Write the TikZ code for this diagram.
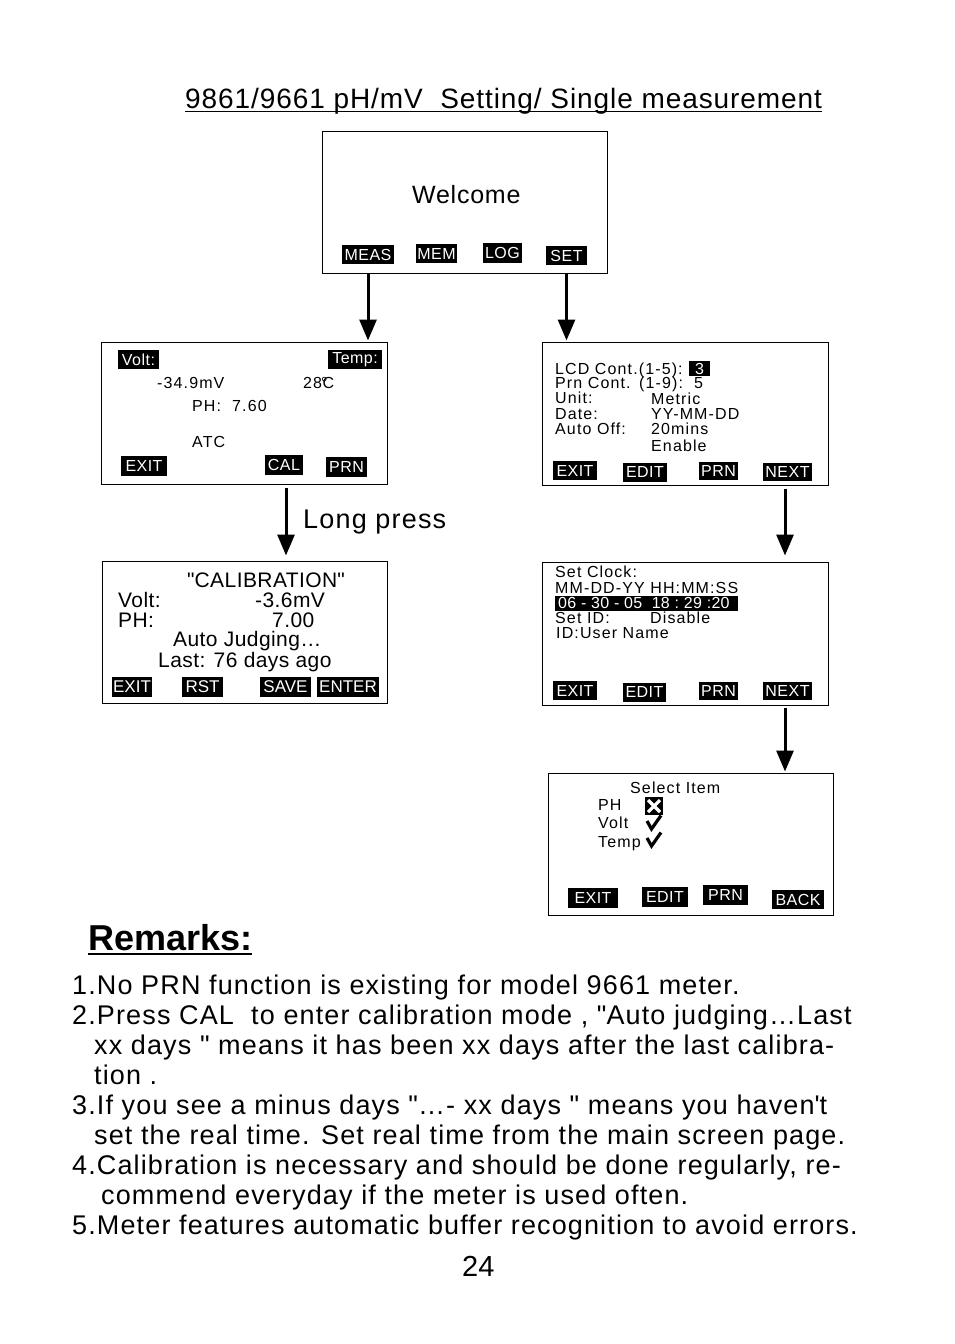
\documentclass[tikz,border=0pt]{standalone}
\usepackage{fontspec}
\setmainfont{Liberation Sans}
\usetikzlibrary{arrows.meta}
\newcommand\myfs[1]{\fontsize{#1}{#1}\selectfont}
\newcommand\lsp[1]{\addfontfeatures{LetterSpace=#1}}
\newcommand\dq{\textquotedbl}
\begin{document}
\begin{tikzpicture}[x=1pt,y=-1pt,
  screen/.style={draw=black,line width=1pt,inner sep=0pt,minimum width=285pt,minimum height=142pt},
  btn/.style={fill=black,text=white,inner sep=0pt,font=\myfs{16}\lsp{3}},
  lcd/.style={inner sep=0pt,anchor=base west,font=\myfs{16}\lsp{7}},
  big/.style={inner sep=0pt,anchor=base west,font=\myfs{21}\lsp{2}},
  rem/.style={inner sep=0pt,anchor=base west,font=\myfs{27}\lsp{4.2}},
  chk/.style={line width=3.2pt,line cap=butt,line join=miter},
  arr/.style={line width=3pt,-{Triangle[length=21pt,width=17pt]}}]
\useasboundingbox (0,0) rectangle (954,1344);
% title
\node[inner sep=0pt,anchor=base west,font=\myfs{28}\lsp{3.3}] (title) at (185,108) {9861/9661 pH/mV\ \ Setting/ Single measurement};
\draw[line width=1pt] ([yshift=-3pt]title.base west) -- ([yshift=-3pt]title.base east);
% welcome screen
\node[screen] (welcome) at (464.5,202) {};
\node[inner sep=0pt,anchor=base west,font=\myfs{25}\lsp{3}] (wtxt) at (412,203) {Welcome};
\node[btn,minimum width=52pt,minimum height=19pt] (meas) at (368,254.5) {MEAS};
\node[btn,minimum width=41pt,minimum height=19pt] (mem) at (436.5,253.5) {MEM};
\node[btn,minimum width=39pt,minimum height=20pt] (log) at (502.5,253) {LOG};
\node[btn,minimum width=41pt,minimum height=19pt] (set) at (566.5,255.5) {SET};
% measure screen
\node[screen,minimum width=286pt] (measure) at (244,413) {};
\node[btn,minimum width=41pt,minimum height=19pt] (volt) at (138.5,359.5) {Volt:};
\node[btn,minimum width=54pt,minimum height=19pt] (temp) at (355,359.5) {Temp:};
\node[lcd] (mv) at (157,388) {-34.9mV};
\node[lcd] (tc) at (303,388) {28\kern-1pt°\kern-5pt C};
\node[lcd] (ph) at (192,411) {PH:\ \ 7.60};
\node[lcd] (atc) at (192,447) {ATC};
\node[btn,minimum width=46pt,minimum height=20pt] (exit1) at (144,466) {EXIT};
\node[btn,minimum width=38pt,minimum height=20pt] (cal) at (284,465) {CAL};
\node[btn,minimum width=41pt,minimum height=20pt] (prn1) at (346.5,467) {PRN};
% settings screen
\node[screen,minimum width=286pt,minimum height=143pt] (settings) at (685,413.5) {};
\node[lcd] (s1) at (555,374) {LCD Cont.(1-5):};
\node[btn,minimum width=21pt,minimum height=15pt,font=\myfs{16}] (lcdv) at (699.5,368.5) {3};
\node[lcd] (s2) at (555,388) {Prn Cont.};
\node[lcd] (s2r) at (639,388) {(1-9):};
\node[lcd] (s2v) at (694,388) {5};
\node[lcd] (s3) at (555,403) {Unit:};
\node[lcd] (s3v) at (651,404) {Metric};
\node[lcd] (s4) at (555,419) {Date:};
\node[lcd] (s4v) at (651,419) {YY-MM-DD};
\node[lcd] (s5) at (555,434) {Auto Off:};
\node[lcd] (s5v) at (651,434) {20mins};
\node[lcd] (s6v) at (651,451) {Enable};
\node[btn,minimum width=44pt,minimum height=19pt] (exit2) at (575,470.5) {EXIT};
\node[btn,minimum width=44pt,minimum height=19pt] (edit2) at (645,472) {EDIT};
\node[btn,minimum width=39pt,minimum height=18pt] (prn2) at (718.5,471) {PRN};
\node[btn,minimum width=49pt,minimum height=18pt] (next2) at (787.5,471.5) {NEXT};
% calibration screen
\node[screen] (calib) at (244.5,632) {};
\node[big] (c0) at (187,587) {\dq CALIBRATION\dq};
\node[big] (c1) at (118,607) {Volt:};
\node[big] (c1v) at (255,607) {-3.6mV};
\node[big] (c2) at (118,627) {PH:};
\node[big] (c2v) at (272,627) {7.00};
\node[big] (c3) at (173,646) {Auto Judging\dots};
\node[big] (c4) at (158,667) {Last: 76 days ago};
\node[btn,minimum width=40pt,minimum height=20pt,font=\myfs{17}] (exit4) at (132,687) {EXIT};
\node[btn,minimum width=41pt,minimum height=20pt,font=\myfs{17}] (rst) at (202.5,687) {RST};
\node[btn,minimum width=51pt,minimum height=20pt,font=\myfs{17}] (save) at (285.5,687) {SAVE};
\node[btn,minimum width=62pt,minimum height=20pt,font=\myfs{17}] (enter) at (348,687) {ENTER};
% clock screen
\node[screen,minimum width=286pt,minimum height=143pt] (clock) at (685,633.5) {};
\node[lcd] (k1) at (555,577) {Set Clock:};
\node[lcd] (k2) at (555,593) {MM-DD-YY HH:MM:SS};
\node[fill=black,minimum width=183pt,minimum height=15pt,inner sep=0pt] (bar) at (646.5,603.5) {};
\node[lcd,text=white,font=\myfs{16}\lsp{2}] (k3) at (558,608) {06 - 30 - 05\ \ 18 :\ 29 :20};
\node[lcd] (k4) at (555,623) {Set ID:};
\node[lcd] (k4v) at (650,623) {Disable};
\node[lcd] (k5) at (556,638) {ID:User Name};
\node[btn,minimum width=44pt,minimum height=19pt] (exit3) at (575,690.5) {EXIT};
\node[btn,minimum width=43pt,minimum height=19pt] (edit3) at (644.5,692) {EDIT};
\node[btn,minimum width=39pt,minimum height=18pt] (prn3) at (718.5,691) {PRN};
\node[btn,minimum width=49pt,minimum height=18pt] (next3) at (787.5,691) {NEXT};
% select screen
\node[screen] (select) at (690.5,844) {};
\node[lcd] (e0) at (630,793) {Select Item};
\node[lcd] (e1) at (598,810) {PH};
\node[fill=black,inner sep=0pt,minimum size=18pt] (xbox) at (654,806) {};
\draw[white,line width=3.2pt] ([shift={(-6pt,-6pt)}]xbox.center) -- ([shift={(6pt,6pt)}]xbox.center)
  ([shift={(-6pt,6pt)}]xbox.center) -- ([shift={(6pt,-6pt)}]xbox.center);
\node[lcd] (e2) at (598,828) {Volt};
\draw[chk] (647,821) -- (651.5,829) -- (661,815.5);
\node[lcd] (e3) at (598,847) {Temp};
\draw[chk] (647,838) -- (651.5,846) -- (661,832.5);
\node[btn,minimum width=50pt,minimum height=20pt] (exit5) at (593,898) {EXIT};
\node[btn,minimum width=46pt,minimum height=20pt] (edit5) at (665,897) {EDIT};
\node[btn,minimum width=45pt,minimum height=20pt] (prn5) at (725.5,895) {PRN};
\node[btn,minimum width=52pt,minimum height=19pt] (back5) at (798,899.5) {BACK};
% arrows
\draw[arr] (meas.south |- welcome.south) -- ([yshift=1pt]meas.south |- measure.north);
\draw[arr] (set.south |- welcome.south) -- ([yshift=1pt]set.south |- settings.north);
\coordinate (lpx) at (286,0);
\coordinate (rx) at (785,0);
\draw[arr] ([yshift=-3pt]lpx |- measure.south) -- ([yshift=5pt]lpx |- calib.north);
\draw[arr] ([yshift=-3pt]rx |- settings.south) -- ([yshift=6pt]rx |- clock.north);
\draw[arr] ([yshift=-2pt]rx |- clock.south) -- ([yshift=1pt]rx |- select.north);
\node[inner sep=0pt,anchor=base west,font=\myfs{27}\lsp{4.4}] (lp) at (303,528) {Long press};
% remarks
\node[inner sep=0pt,anchor=base west,font=\bfseries\myfs{36}] (remarks) at (88,950) {Remarks:};
\draw[line width=2.5pt] ([yshift=-4pt]remarks.base west) -- ([yshift=-4pt]remarks.base east);
\node[rem] (r1) at (72,994) {1.No PRN function is existing for model 9661 meter.};
\node[rem] (r2) at (72,1024) {2.Press CAL\ \ to enter calibration mode , \dq Auto judging\dots Last};
\node[rem] (r3) at (94,1054) {xx days \dq\ means it has been xx days after the last calibra-};
\node[rem] (r4) at (94,1084) {tion .};
\node[rem] (r5) at (72,1114) {3.If you see a minus days \dq\dots- xx days \dq\ means you haven\textquotesingle t};
\node[rem] (r6) at (94,1144) {set the real time. Set real time from the main screen page.};
\node[rem] (r7) at (72,1174) {4.Calibration is necessary and should be done regularly, re-};
\node[rem] (r8) at (101,1204) {commend everyday if the meter is used often.};
\node[rem] (r9) at (72,1234) {5.Meter features automatic buffer recognition to avoid errors.};
\node[inner sep=0pt,anchor=base west,font=\myfs{29}] (page) at (462,1276) {24};
\end{tikzpicture}
\end{document}
